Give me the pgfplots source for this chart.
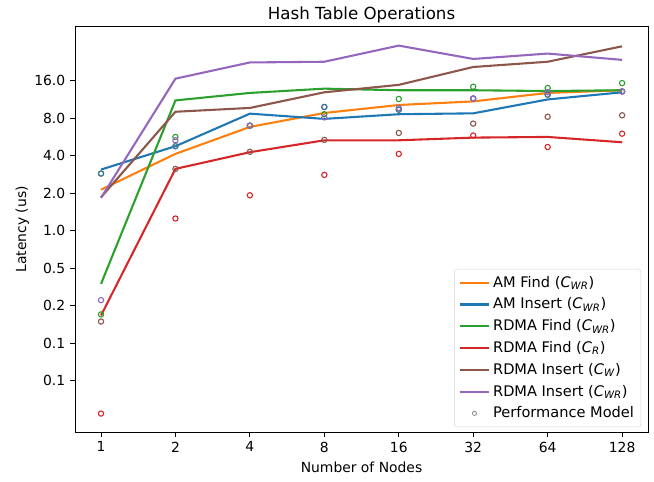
\documentclass[border=0pt]{standalone}
\usepackage{fontspec}
\setmainfont{DejaVu Sans}
\usepackage{pgfplots}
\pgfplotsset{compat=1.18}

\definecolor{tabblue}{HTML}{1F77B4}
\definecolor{taborange}{HTML}{FF7F0E}
\definecolor{tabgreen}{HTML}{2CA02C}
\definecolor{tabred}{HTML}{D62728}
\definecolor{tabbrown}{HTML}{8C564B}
\definecolor{tabpurple}{HTML}{9467BD}

\newcommand{\Csub}[1]{\textit{C}\textsubscript{\textit{#1}}}

\begin{document}
\begin{tikzpicture}
\begin{axis}[
    scale only axis,
    width=412.6pt, height=292pt,
    xmode=log, log basis x=2,
    ymode=log, log basis y=2,
    xmin=0.785, xmax=163,
    ymin=0.0241, ymax=43.6,
    xtick={1,2,4,8,16,32,64,128},
    xticklabels={1,2,4,8,16,32,64,128},
    ytick={0.0625,0.125,0.25,0.5,1,2,4,8,16},
    yticklabels={0.1,0.1,0.2,0.5,1.0,2.0,4.0,8.0,16.0},
    minor tick num=0,
    tick align=outside,
    tick pos=left,
    major tick length=3.5pt,
    tick style={black, line width=0.6pt},
    axis line style={line width=0.6pt},
    /pgf/number format/assume math mode=true,
    tick label style={font=\fontsize{10}{12}\selectfont},
    label style={font=\fontsize{10}{12}\selectfont},
    title style={font=\fontsize{12}{14}\selectfont, yshift=-7pt},
    title={Hash Table Operations},
    xlabel={Number of Nodes},
    ylabel={Latency (us)},
    xlabel style={yshift=0pt},
    ylabel style={yshift=-3pt},
    legend cell align=left,
    legend style={font=\fontsize{10.5}{12}\selectfont, draw=black!15, rounded corners=2pt,
      at={(0.988,0.012)}, anchor=south east, row sep=2.2pt, inner sep=3pt},
    legend image code/.code={\draw[#1] plot coordinates {(0cm,0cm) (0.75cm,0cm)};},
  ]

\addplot[taborange, line width=1.5pt, mark=none] coordinates {
  (1,2.13) (2,4.13) (4,6.8) (8,8.8) (16,10.2) (32,10.9) (64,12.75) (128,13.4)};
\addlegendentry{AM Find (\Csub{WR})}
\addplot[tabblue, line width=1.5pt, mark=none] coordinates {
  (1,3.09) (2,4.76) (4,8.69) (8,7.89) (16,8.6) (32,8.74) (64,11.3) (128,12.9)};
\addlegendentry{AM Insert (\Csub{WR})}
\addplot[tabgreen, line width=1.5pt, mark=none] coordinates {
  (1,0.373) (2,11.1) (4,12.75) (8,13.8) (16,13.4) (32,13.4) (64,13.2) (128,13.4)};
\addlegendentry{RDMA Find (\Csub{WR})}
\addplot[tabred, line width=1.5pt, mark=none] coordinates {
  (1,0.208) (2,3.13) (4,4.26) (8,5.31) (16,5.31) (32,5.58) (64,5.65) (128,5.12)};
\addlegendentry{RDMA Find (\Csub{R})}
\addplot[tabbrown, line width=1.5pt, mark=none] coordinates {
  (1,1.85) (2,9.0) (4,9.66) (8,12.9) (16,14.8) (32,20.6) (64,22.7) (128,30.2)};
\addlegendentry{RDMA Insert (\Csub{W})}
\addplot[tabpurple, line width=1.5pt, mark=none] coordinates {
  (1,1.83) (2,16.6) (4,22.4) (8,22.7) (16,30.6) (32,23.9) (64,26.4) (128,23.5)};
\addlegendentry{RDMA Insert (\Csub{WR})}

\addlegendimage{legend image code/.code={\draw[black!45, line width=0.6pt] (0.375cm,0cm) circle (1.5pt);}}
\addlegendentry{Performance Model}

% performance model points
\addplot[only marks, mark=o, mark size=1.9pt, taborange, line width=0.8pt, forget plot] coordinates {
  (1,2.87) (2,4.76) (4,6.96) (8,9.83) (16,9.36) (32,11.5) (64,12.35) (128,13.1)};
\addplot[only marks, mark=o, mark size=1.9pt, tabblue, line width=0.8pt, forget plot] coordinates {
  (1,2.87) (2,4.76) (4,6.96) (8,9.83) (16,9.36) (32,11.5) (64,12.35) (128,13.1)};
\addplot[only marks, mark=o, mark size=1.9pt, tabgreen, line width=0.8pt, forget plot] coordinates {
  (1,0.212) (2,5.65) (4,6.96) (8,8.6) (16,11.4) (32,14.3) (64,13.98) (128,15.3)};
\addplot[only marks, mark=o, mark size=1.9pt, tabred, line width=0.8pt, forget plot] coordinates {
  (1,0.0339) (2,1.25) (4,1.92) (8,2.8) (16,4.13) (32,5.8) (64,4.69) (128,6.0)};
\addplot[only marks, mark=o, mark size=1.9pt, tabbrown, line width=0.8pt, forget plot] coordinates {
  (1,0.186) (2,3.13) (4,4.29) (8,5.35) (16,6.08) (32,7.23) (64,8.2) (128,8.43)};
\addplot[only marks, mark=o, mark size=1.9pt, tabpurple, line width=0.8pt, forget plot] coordinates {
  (1,0.276) (2,5.31) (4,6.96) (8,8.1) (16,9.66) (32,11.5) (64,12.9) (128,13.1)};

\end{axis}
\pgfresetboundingbox
\path (-54pt,-35.28pt) rectangle (416.88pt,311.04pt);
\end{tikzpicture}
\end{document}
